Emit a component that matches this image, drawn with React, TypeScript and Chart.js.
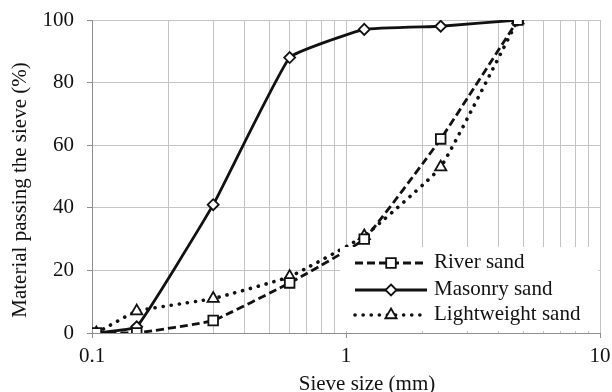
import { useEffect, useRef } from 'react';
import { Chart, registerables } from 'chart.js';

Chart.register(...registerables);

const sieveSizes = [0.104, 0.15, 0.3, 0.6, 1.18, 2.36, 4.75];
const riverSand = [0, 0, 4, 16, 30, 62, 100];
const masonrySand = [0, 2, 41, 88, 97, 98, 100];
const lightweightSand = [0, 7, 11, 18, 31, 53, 100];
const seriesNames = ['River sand', 'Masonry sand', 'Lightweight sand'];
const xMajorTicks = [0.1, 1, 10];
const xTickLabels = ['0.1', '1', '10'];
const yTickStep = 20;
const xTitle = 'Sieve size (mm)';
const yTitle = 'Material passing the sieve (%)';

const FONT = '"Liberation Serif", "Times New Roman", serif';
const GRID = '#c4c4c4';
const AXIS = '#8e8e8e';
const INK = '#111111';

function isMajor(v: number) {
  return xMajorTicks.some((m) => Math.abs(v - m) < 1e-9);
}

function drawMarker(ctx: CanvasRenderingContext2D, kind: string, x: number, y: number) {
  ctx.save();
  ctx.fillStyle = '#ffffff';
  ctx.strokeStyle = INK;
  ctx.lineWidth = 1.8;
  ctx.setLineDash([]);
  ctx.beginPath();
  if (kind === 'rect') {
    const s = 4.8;
    ctx.rect(x - s, y - s, 2 * s, 2 * s);
  } else if (kind === 'rectRot') {
    const r = 5.5;
    ctx.moveTo(x, y - r);
    ctx.lineTo(x + r, y);
    ctx.lineTo(x, y + r);
    ctx.lineTo(x - r, y);
    ctx.closePath();
  } else {
    const r = 6.5;
    ctx.moveTo(x, y - r);
    ctx.lineTo(x + r * 0.866, y + r * 0.5);
    ctx.lineTo(x - r * 0.866, y + r * 0.5);
    ctx.closePath();
  }
  ctx.fill();
  ctx.stroke();
  ctx.restore();
}

const legendStyles = [
  { dash: [8, 4], cap: 'butt', width: 2.8, marker: 'rect' },
  { dash: [], cap: 'butt', width: 2.8, marker: 'rectRot' },
  { dash: [0.1, 8], cap: 'round', width: 3.6, marker: 'triangle' },
];

const overlayPlugin = {
  id: 'overlay',
  afterDatasetsDraw(chart: any) {
    const ctx: CanvasRenderingContext2D = chart.ctx;
    const ca = chart.chartArea;
    ctx.save();
    const bx = ca.right - 260;
    const by = ca.bottom - 86;
    ctx.fillStyle = '#ffffff';
    ctx.fillRect(bx, by, ca.right - 2 - bx, ca.bottom - 2 - by);
    const rows = [by + 16, by + 43, by + 68];
    seriesNames.forEach((name, i) => {
      const st = legendStyles[i];
      const y = rows[i];
      const x0 = bx + 15;
      const x1 = bx + 87;
      const xm = bx + 51;
      ctx.save();
      ctx.strokeStyle = INK;
      ctx.lineWidth = st.width;
      ctx.lineCap = st.cap as CanvasLineCap;
      ctx.setLineDash(st.dash);
      ctx.beginPath();
      ctx.moveTo(x0, y);
      ctx.lineTo(x1, y);
      ctx.stroke();
      ctx.restore();
      drawMarker(ctx, st.marker, xm, y);
      ctx.fillStyle = INK;
      ctx.font = `21px ${FONT}`;
      ctx.textAlign = 'left';
      ctx.textBaseline = 'alphabetic';
      ctx.fillText(name, bx + 94, y + 5);
    });
    ctx.restore();
  },
  afterDraw(chart: any) {
    const ctx: CanvasRenderingContext2D = chart.ctx;
    ctx.save();
    ctx.fillStyle = INK;
    ctx.font = `21px ${FONT}`;
    ctx.textAlign = 'center';
    ctx.textBaseline = 'alphabetic';
    ctx.fillText(xTitle, 367, 390);
    ctx.translate(20, 190);
    ctx.rotate(-Math.PI / 2);
    ctx.textBaseline = 'middle';
    ctx.fillText(yTitle, 0, 0);
    ctx.restore();
  },
};

export default function App() {
  const ref = useRef<HTMLCanvasElement | null>(null);

  useEffect(() => {
    document.body.style.margin = '0';
    const canvas = ref.current;
    if (!canvas) return;
    const toPts = (arr: number[]) => sieveSizes.map((x, i) => ({ x, y: arr[i] }));
    const common = {
      borderColor: INK,
      pointBorderColor: INK,
      pointBackgroundColor: '#ffffff',
      pointBorderWidth: 1.8,
      tension: 0.1,
      fill: false,
    };
    const chart = new Chart(canvas, {
      type: 'line',
      data: {
        datasets: [
          {
            ...common,
            label: seriesNames[0],
            data: toPts(riverSand),
            borderWidth: 2.8,
            borderDash: [8, 4],
            pointStyle: 'rect',
            pointRadius: 6.8,
          },
          {
            ...common,
            label: seriesNames[1],
            data: toPts(masonrySand),
            borderWidth: 2.8,
            pointStyle: 'rectRot',
            pointRadius: 5.5,
          },
          {
            ...common,
            label: seriesNames[2],
            data: toPts(lightweightSand),
            borderWidth: 3.6,
            borderDash: [0.1, 8],
            borderCapStyle: 'round',
            pointStyle: 'triangle',
            pointRadius: 6.5,
          },
        ] as any,
      },
      options: {
        responsive: false,
        animation: false,
        layout: { padding: { top: 20, right: 12, left: 0, bottom: 0 } },
        plugins: {
          legend: { display: false },
          tooltip: { enabled: false },
          title: { display: false },
        },
        scales: {
          x: {
            type: 'logarithmic',
            min: 0.1,
            max: 10,
            afterBuildTicks: (scale: any) => {
              const ticks: any[] = [];
              [0.1, 1].forEach((d) => {
                for (let k = 1; k <= 9; k++) ticks.push({ value: +(d * k).toFixed(6) });
              });
              ticks.push({ value: 10 });
              scale.ticks = ticks;
            },
            afterFit: (scale: any) => {
              scale.height = 59;
              scale.paddingLeft = 0;
              scale.paddingRight = 0;
            },
            ticks: {
              autoSkip: false,
              maxRotation: 0,
              minRotation: 0,
              padding: 6,
              color: INK,
              font: { family: FONT, size: 21 },
              callback: (v: any) => {
                const idx = xMajorTicks.findIndex((m) => Math.abs(Number(v) - m) < 1e-9);
                return idx >= 0 ? xTickLabels[idx] : '';
              },
            },
            grid: {
              color: GRID,
              lineWidth: 1,
              tickLength: 5,
              tickColor: (c: any) => (c.tick && isMajor(c.tick.value) ? AXIS : 'rgba(0,0,0,0)'),
            },
            border: { color: AXIS, width: 1 },
          },
          y: {
            type: 'linear',
            min: 0,
            max: 100,
            afterFit: (scale: any) => {
              scale.width = 92;
              scale.paddingTop = 0;
              scale.paddingBottom = 0;
            },
            ticks: {
              stepSize: yTickStep,
              padding: 13,
              color: INK,
              font: { family: FONT, size: 21 },
            },
            grid: {
              color: GRID,
              lineWidth: 1,
              tickLength: 5,
              tickColor: AXIS,
            },
            border: { color: AXIS, width: 1 },
          },
        },
      } as any,
      plugins: [overlayPlugin],
    });
    return () => chart.destroy();
  }, []);

  return (
    <div style={{ width: 612, height: 392 }}>
      <canvas ref={ref} width={612} height={392} style={{ width: 612, height: 392, display: 'block' }} />
    </div>
  );
}
